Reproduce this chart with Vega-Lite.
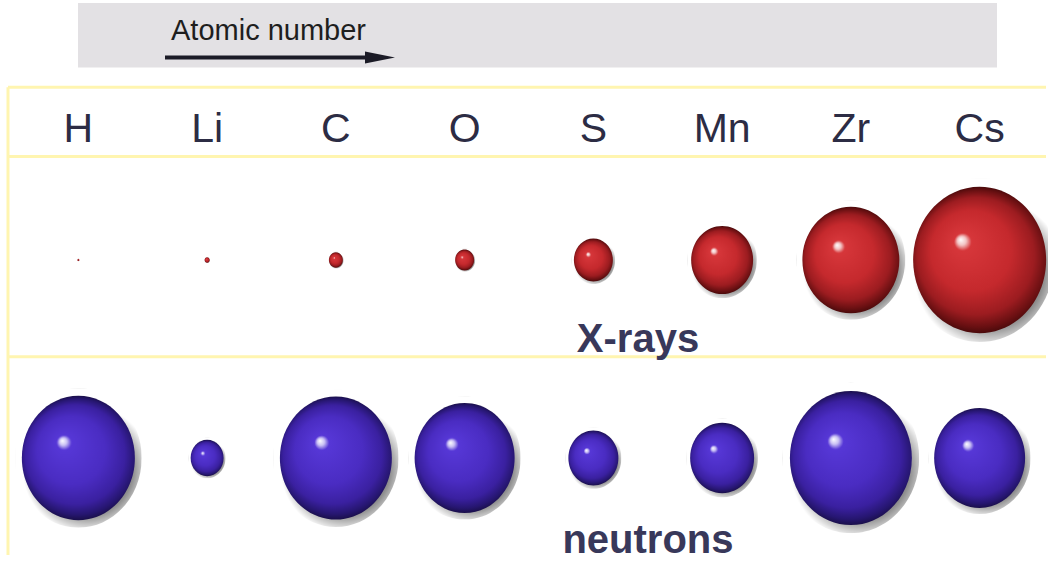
{
  "$schema": "https://vega.github.io/schema/vega-lite/v6.json",
  "width": 1048,
  "height": 561,
  "autosize": {"type": "fit", "contains": "padding"},
  "padding": 0,
  "background": "#ffffff",
  "config": {"view": {"stroke": null}, "axis": {"disable": true}, "legend": {"disable": true}},
  "datasets": {
    "spheres": [
      {"element": "H", "probe": "X-rays", "strength": 1.5},
      {"element": "Li", "probe": "X-rays", "strength": 3.8},
      {"element": "C", "probe": "X-rays", "strength": 10.5},
      {"element": "O", "probe": "X-rays", "strength": 14.3},
      {"element": "S", "probe": "X-rays", "strength": 29.3},
      {"element": "Mn", "probe": "X-rays", "strength": 46.6},
      {"element": "Zr", "probe": "X-rays", "strength": 72.9},
      {"element": "Cs", "probe": "X-rays", "strength": 100},
      {"element": "H", "probe": "neutrons", "strength": 85},
      {"element": "Li", "probe": "neutrons", "strength": 24.8},
      {"element": "C", "probe": "neutrons", "strength": 84.2},
      {"element": "O", "probe": "neutrons", "strength": 75.2},
      {"element": "S", "probe": "neutrons", "strength": 37.6},
      {"element": "Mn", "probe": "neutrons", "strength": 48.1},
      {"element": "Zr", "probe": "neutrons", "strength": 91.7},
      {"element": "Cs", "probe": "neutrons", "strength": 68.4}
    ]
  },
  "data": {"name": "spheres"},
  "resolve": {"scale": {"x": "independent", "y": "independent", "size": "independent"}},
  "layer": [
    {
      "data": {"values": [{}]},
      "layer": [
        {
          "mark": {"type": "rect", "fill": "#e3e1e4"},
          "encoding": {
            "x": {"datum": 78, "type": "quantitative", "scale": {"domain": [0, 1048], "nice": false, "zero": false}},
            "x2": {"datum": 997},
            "y": {"datum": 3, "type": "quantitative", "scale": {"domain": [0, 561], "nice": false, "zero": false, "reverse": true}},
            "y2": {"datum": 68}
          }
        },
        {
          "mark": {"type": "text", "text": "Atomic number", "font": "Liberation Sans", "fontSize": 29, "align": "left", "baseline": "alphabetic", "fill": "#1e1e1e"},
          "encoding": {
            "x": {"datum": 171, "type": "quantitative", "scale": {"domain": [0, 1048], "nice": false, "zero": false}},
            "y": {"datum": 40, "type": "quantitative", "scale": {"domain": [0, 561], "nice": false, "zero": false, "reverse": true}}
          }
        },
        {
          "mark": {"type": "rule", "color": "#1b1b26", "strokeWidth": 4},
          "encoding": {
            "x": {"datum": 165, "type": "quantitative", "scale": {"domain": [0, 1048], "nice": false, "zero": false}},
            "x2": {"datum": 372},
            "y": {"datum": 58, "type": "quantitative", "scale": {"domain": [0, 561], "nice": false, "zero": false, "reverse": true}}
          }
        },
        {
          "mark": {"type": "point", "shape": "M-1.5,-0.6L1.5,0L-1.5,0.6Z", "size": 400, "filled": true, "fill": "#1b1b26", "opacity": 1, "strokeWidth": 0},
          "encoding": {
            "x": {"datum": 380, "type": "quantitative", "scale": {"domain": [0, 1048], "nice": false, "zero": false}},
            "y": {"datum": 58, "type": "quantitative", "scale": {"domain": [0, 561], "nice": false, "zero": false, "reverse": true}}
          }
        },
        {
          "mark": {"type": "rule", "color": "#fff5b0", "strokeWidth": 3},
          "encoding": {
            "x": {"datum": 8, "type": "quantitative", "scale": {"domain": [0, 1048], "nice": false, "zero": false}},
            "x2": {"datum": 1046},
            "y": {"datum": 88, "type": "quantitative", "scale": {"domain": [0, 561], "nice": false, "zero": false, "reverse": true}}
          }
        },
        {
          "mark": {"type": "rule", "color": "#fff5b0", "strokeWidth": 3},
          "encoding": {
            "x": {"datum": 8, "type": "quantitative", "scale": {"domain": [0, 1048], "nice": false, "zero": false}},
            "x2": {"datum": 1046},
            "y": {"datum": 158, "type": "quantitative", "scale": {"domain": [0, 561], "nice": false, "zero": false, "reverse": true}}
          }
        },
        {
          "mark": {"type": "rule", "color": "#fff5b0", "strokeWidth": 3},
          "encoding": {
            "x": {"datum": 8, "type": "quantitative", "scale": {"domain": [0, 1048], "nice": false, "zero": false}},
            "x2": {"datum": 1046},
            "y": {"datum": 360, "type": "quantitative", "scale": {"domain": [0, 561], "nice": false, "zero": false, "reverse": true}}
          }
        },
        {
          "mark": {"type": "rule", "color": "#fff5b0", "strokeWidth": 3},
          "encoding": {
            "x": {"datum": 8, "type": "quantitative", "scale": {"domain": [0, 1048], "nice": false, "zero": false}},
            "y": {"datum": 88, "type": "quantitative", "scale": {"domain": [0, 561], "nice": false, "zero": false, "reverse": true}},
            "y2": {"datum": 560}
          }
        },
        {
          "mark": {"type": "text", "text": "X-rays", "font": "Liberation Sans", "fontWeight": "bold", "fontSize": 40, "align": "center", "baseline": "alphabetic", "fill": "#38385a"},
          "encoding": {
            "x": {"datum": 638, "type": "quantitative", "scale": {"domain": [0, 1048], "nice": false, "zero": false}},
            "y": {"datum": 355, "type": "quantitative", "scale": {"domain": [0, 561], "nice": false, "zero": false, "reverse": true}}
          }
        },
        {
          "mark": {"type": "text", "text": "neutrons", "font": "Liberation Sans", "fontWeight": "bold", "fontSize": 40, "align": "center", "baseline": "alphabetic", "fill": "#38385a"},
          "encoding": {
            "x": {"datum": 648, "type": "quantitative", "scale": {"domain": [0, 1048], "nice": false, "zero": false}},
            "y": {"datum": 558, "type": "quantitative", "scale": {"domain": [0, 561], "nice": false, "zero": false, "reverse": true}}
          }
        }
      ]
    },
    {
      "transform": [{"filter": "datum.probe === 'X-rays'"}],
      "mark": {"type": "text", "font": "Liberation Sans", "fontSize": 41, "align": "center", "baseline": "alphabetic", "fill": "#2c2c44"},
      "encoding": {
        "x": {"field": "element", "type": "nominal", "scale": {"type": "point", "domain": ["H", "Li", "C", "O", "S", "Mn", "Zr", "Cs"], "range": [14, 1044], "padding": 0.5}},
        "y": {"datum": 143, "type": "quantitative", "scale": {"domain": [0, 561], "nice": false, "zero": false, "reverse": true}},
        "text": {"field": "element"}
      }
    },
    {
      "resolve": {"scale": {"size": "independent"}},
      "encoding": {
        "x": {"field": "element", "type": "nominal", "scale": {"type": "point", "domain": ["H", "Li", "C", "O", "S", "Mn", "Zr", "Cs"], "range": [14, 1044], "padding": 0.5}},
        "y": {"field": "probe", "type": "nominal", "scale": {"type": "point", "domain": ["X-rays", "neutrons"], "range": [260, 458], "padding": 0}}
      },
      "layer": [
        {
          "mark": {
            "type": "point", "shape": "M-1,0A1,1.1,0,1,1,1,0A1,1.1,0,1,1,-1,0Z", "filled": true, "opacity": 1, "strokeWidth": 0, "clip": true,
            "fill": {"gradient": "radial", "x1": 0.56, "y1": 0.58, "r1": 0, "x2": 0.56, "y2": 0.58, "r2": 0.46,
              "stops": [{"offset": 0, "color": "rgba(0,0,0,0.6)"}, {"offset": 0.72, "color": "rgba(0,0,0,0.45)"}, {"offset": 1, "color": "rgba(0,0,0,0)"}]}
          },
          "encoding": {
            "size": {"field": "strength", "type": "quantitative", "scale": {"type": "pow", "exponent": 2, "domain": [0, 100], "range": [0, 22189]}}
          }
        },
        {
          "transform": [{"filter": "datum.probe === 'X-rays'"}],
          "mark": {
            "type": "point", "shape": "M-1,0A1,1.1,0,1,1,1,0A1,1.1,0,1,1,-1,0Z", "filled": true, "opacity": 1, "strokeWidth": 0, "clip": true,
            "fill": {"gradient": "radial", "x1": 0.37, "y1": 0.36, "r1": 0, "x2": 0.5, "y2": 0.5, "r2": 0.5,
              "stops": [{"offset": 0, "color": "#ffffff"}, {"offset": 0.06, "color": "#f2c4c4"}, {"offset": 0.12, "color": "#d6363a"}, {"offset": 0.55, "color": "#c5292d"}, {"offset": 0.8, "color": "#9c1c20"}, {"offset": 0.93, "color": "#6a1012"}, {"offset": 1, "color": "#4a0a0b"}]}
          },
          "encoding": {
            "size": {"field": "strength", "type": "quantitative", "scale": {"type": "pow", "exponent": 2, "domain": [0, 100], "range": [0, 17689]}}
          }
        },
        {
          "transform": [{"filter": "datum.probe === 'neutrons'"}],
          "mark": {
            "type": "point", "shape": "M-1,0A1,1.1,0,1,1,1,0A1,1.1,0,1,1,-1,0Z", "filled": true, "opacity": 1, "strokeWidth": 0, "clip": true,
            "fill": {"gradient": "radial", "x1": 0.37, "y1": 0.36, "r1": 0, "x2": 0.5, "y2": 0.5, "r2": 0.5,
              "stops": [{"offset": 0, "color": "#ffffff"}, {"offset": 0.06, "color": "#c9c0f4"}, {"offset": 0.12, "color": "#5637d6"}, {"offset": 0.55, "color": "#4a2cc2"}, {"offset": 0.8, "color": "#3a20a0"}, {"offset": 0.93, "color": "#261670"}, {"offset": 1, "color": "#1a0f4a"}]}
          },
          "encoding": {
            "size": {"field": "strength", "type": "quantitative", "scale": {"type": "pow", "exponent": 2, "domain": [0, 100], "range": [0, 17689]}}
          }
        }
      ]
    }
  ]
}
